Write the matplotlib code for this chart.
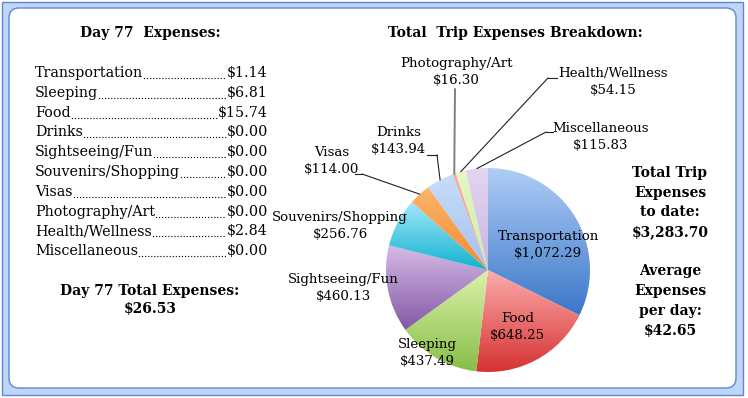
import numpy as np
import matplotlib
matplotlib.use('Agg')
import matplotlib.pyplot as plt
from matplotlib.patches import Rectangle, FancyBboxPatch, ConnectionPatch
from matplotlib.lines import Line2D
from matplotlib.transforms import IdentityTransform
from matplotlib.colors import LinearSegmentedColormap

# --- data ---
day_label = 'Day 77'
day_categories = ['Transportation', 'Sleeping', 'Food', 'Drinks', 'Sightseeing/Fun',
                  'Souvenirs/Shopping', 'Visas', 'Photography/Art', 'Health/Wellness',
                  'Miscellaneous']
day_values = [1.14, 6.81, 15.74, 0.00, 0.00, 0.00, 0.00, 0.00, 2.84, 0.00]
day_total = 26.53

pie_categories = ['Transportation', 'Food', 'Sleeping', 'Sightseeing/Fun',
                  'Souvenirs/Shopping', 'Visas', 'Drinks', 'Photography/Art',
                  'Health/Wellness', 'Miscellaneous']
pie_values = [1072.29, 648.25, 437.49, 460.13, 256.76, 114.00, 143.94, 16.30, 54.15, 115.83]
trip_total = 3283.70
avg_per_day = 42.65

# gradient colours per slice (top, bottom)
slice_colors = [('#b0cdf6', '#3a77c8'), ('#fcacac', '#d63232'), ('#dcf2ad', '#88be46'),
                ('#d6bbe6', '#8258a6'), ('#a4e8f8', '#10b2d0'), ('#fbb46e', '#f48a2a'),
                ('#c8ddf8', '#a2c1ef'), ('#f6abab', '#f09c9c'), ('#e4f8c6', '#cbeda0'),
                ('#e4d6f1', '#c9b4e3')]

W, H = 748, 398
FONT = 'DejaVu Serif'

fig = plt.figure(figsize=(W / 100, H / 100), dpi=100)
fig.patch.set_facecolor('white')


def px(x, y):
    # pixel position measured from top-left -> figure fraction
    return x / W, 1 - y / H


# frame (behind the axes)
fig.add_artist(Rectangle((2, 3), 741, 393, transform=IdentityTransform(),
                         facecolor='#c0d6f6', edgecolor='#5d87d6', lw=1.0, zorder=-3))
fig.add_artist(FancyBboxPatch((9, 10), 727, 380, boxstyle='round,pad=0,rounding_size=10',
                              transform=IdentityTransform(), facecolor='white',
                              edgecolor='#5d87d6', lw=1.0, zorder=-2))

# --- left: day expenses list ---
fig.text(*px(150, 33), f'{day_label}  Expenses:', family=FONT, fontsize=10,
         fontweight='bold', ha='center', va='center')

renderer = fig.canvas.get_renderer()
row_y = 73
for cat, val in zip(day_categories, day_values):
    t1 = fig.text(*px(35, row_y), cat, family=FONT, fontsize=10.3, ha='left', va='center')
    t2 = fig.text(*px(268, row_y), f'${val:.2f}', family=FONT, fontsize=10.3,
                  ha='right', va='center')
    x_a = t1.get_window_extent(renderer).x1 + 1
    x_b = t2.get_window_extent(renderer).x0 - 1
    yb = H - row_y - 5
    fig.add_artist(Line2D([x_a, x_b], [yb, yb], transform=IdentityTransform(),
                          color='black', lw=1.0, linestyle=(0, (0.01, 2.2)),
                          dash_capstyle='round'))
    row_y += 19.8

fig.text(*px(150, 291), f'{day_label} Total Expenses:', family=FONT, fontsize=10,
         fontweight='bold', ha='center', va='center')
fig.text(*px(150, 309), f'${day_total:.2f}', family=FONT, fontsize=10,
         fontweight='bold', ha='center', va='center')

# --- right: pie ---
fig.text(*px(515, 33), 'Total  Trip Expenses Breakdown:', family=FONT, fontsize=10,
         fontweight='bold', ha='center', va='center')

cx, cy, r = 488, 270, 102
ax = fig.add_axes([(cx - r) / W, (H - cy - r) / H, 2 * r / W, 2 * r / H])
wedges, _ = ax.pie(pie_values, startangle=90, counterclock=False, radius=1,
                   wedgeprops=dict(linewidth=0))
grad = np.linspace(0, 1, 256).reshape(-1, 1)
for w, (c_top, c_bot) in zip(wedges, slice_colors):
    w.set_facecolor('none')
    ext = w.get_patch_transform().transform_path(w.get_path()).get_extents()
    cmap = LinearSegmentedColormap.from_list('g', [c_top, c_bot])
    im = ax.imshow(grad, cmap=cmap, extent=(ext.x0, ext.x1, ext.y0, ext.y1),
                   origin='upper', aspect='auto', interpolation='bilinear')
    im.set_clip_path(w)
ax.set_xlim(-1, 1)
ax.set_ylim(-1, 1)
ax.set_aspect('equal')
ax.axis('off')


def money(v):
    return f'${v:,.2f}'


# label positions (data units of the pie axes)
label_pos = [(0.59, 0.25), (0.29, -0.56), (-0.59, -0.81), (-1.42, -0.18), (-1.45, 0.43),
             (-1.53, 1.07), (-0.88, 1.26), (-0.31, 1.94), (1.23, 1.84), (1.10, 1.30)]
for cat, val, (lx, ly) in zip(pie_categories, pie_values, label_pos):
    ax.text(lx, ly, f'{cat}\n{money(val)}', family=FONT, fontsize=9.6, ha='center',
            va='center', linespacing=1.4, clip_on=False)

# leader lines: (category, stub start px, stub end px, colour)
leaders = [('Visas', (355, 174), (362, 174), '#202020'),
           ('Drinks', (427, 155), (437, 155), '#202020'),
           ('Photography/Art', (455, 89), (455, 89), '#808080'),
           ('Health/Wellness', (557, 78), (548, 78), '#202020'),
           ('Miscellaneous', (553, 132), (546, 132), '#202020')]
for cat, (sx, sy), (ex, ey), col in leaders:
    w = wedges[pie_categories.index(cat)]
    mid = np.deg2rad((w.theta1 + w.theta2) / 2)
    lw = 1.4 if col == '#808080' else 0.8
    if (sx, sy) != (ex, ey):
        fig.add_artist(Line2D([sx, ex], [H - sy, H - ey], transform=IdentityTransform(),
                              color=col, lw=lw))
    con = ConnectionPatch(xyA=(ex, H - ey), coordsA='figure pixels',
                          xyB=(np.cos(mid), np.sin(mid)), coordsB='data', axesB=ax,
                          color=col, lw=lw)
    fig.add_artist(con)

# --- right: totals ---
right_lines = ['Total Trip', 'Expenses', 'to date:', money(trip_total), '',
               'Average', 'Expenses', 'per day:', f'${avg_per_day:.2f}']
y = 173
for line in right_lines:
    if line:
        fig.text(*px(670, y), line, family=FONT, fontsize=10, fontweight='bold',
                 ha='center', va='center')
    y += 19.7

fig.savefig('out.png', dpi=100)
